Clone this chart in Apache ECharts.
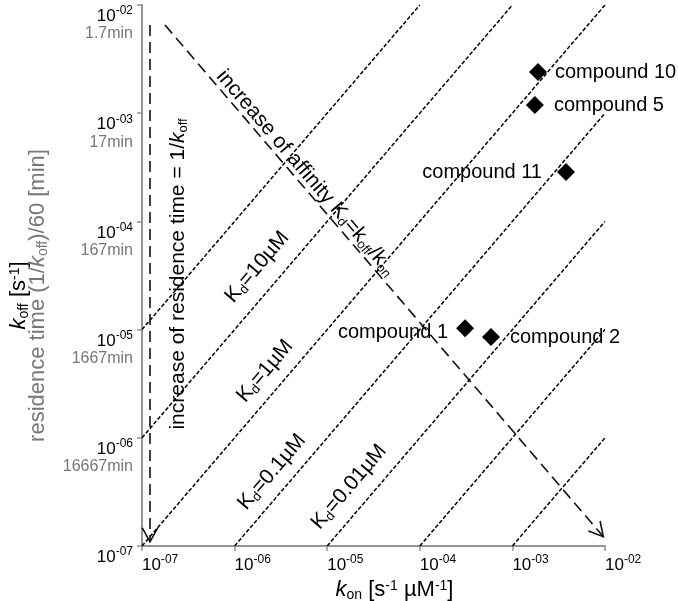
<!DOCTYPE html>
<html><head><meta charset="utf-8">
<script src="https://cdn.jsdelivr.net/npm/echarts@6/dist/echarts.min.js"></script>
<style>html,body{margin:0;padding:0;background:#fff}#c{width:678px;height:601px}</style>
</head><body><div id="c"></div>
<script>
// ---- data ----
const tickExponents = ['-07', '-06', '-05', '-04', '-03', '-02'];
const residenceLabels = ['', '16667min', '1667min', '167min', '17min', '1.7min'];

const compounds = ['compound 10', 'compound 5', 'compound 11', 'compound 1', 'compound 2'];
const kon = [1.89e-3, 1.75e-3, 3.79e-3, 3.08e-4, 5.87e-4];
const koff = [2.40e-3, 1.19e-3, 2.86e-4, 1.03e-5, 8.55e-6];

const kdValues = [100, 10, 1, 0.1, 0.01, 0.001, 0.0001];
const kdStartKon = [1e-7, 1e-7, 1e-7, 1e-6, 1e-5, 1e-4, 1e-3];
const kdStartKoff = [1e-5, 1e-6, 1e-7, 1e-7, 1e-7, 1e-7, 1e-7];
const kdEndKon = [1e-4, 1e-3, 1e-2, 1e-2, 1e-2, 1e-2, 1e-2];
const kdEndKoff = [1e-2, 1e-2, 1e-2, 1e-3, 1e-4, 1e-5, 1e-6];

const arrowNames = ['increase of residence time', 'increase of affinity'];
const arrowStartKon = [1.22e-7, 1.77e-7];
const arrowStartKoff = [6.53e-3, 6.53e-3];
const arrowEndKon = [1.22e-7, 9.6e-3];
const arrowEndKoff = [1.09e-7, 1.22e-7];

const kdLabelTexts = ['10µM', '1µM', '0.1µM', '0.01µM'];
const kdLabelKon = [1.75e-6, 2.13e-6, 2.53e-6, 1.72e-5];
const kdLabelKoff = [3.79e-5, 4.14e-6, 4.83e-7, 3.51e-7];

const residenceNoteAt = [2.45e-7, 3.27e-5];
const affinityNoteAt = [5.90e-6, 2.80e-4];

// ---- layout / style config ----
const FONT = 'Liberation Sans, Arial, Helvetica, sans-serif';
const compoundLabelSide = ['right', 'right', 'left', 'left', 'right'];
const compoundLabelDist = [8, 10, 15, 8, 10];
const compoundLabelDy = [0, 0, 0, 4, 1];
const KD_ANGLE = 49.5;

function tickLabel(v, withRes) {
  const i = Math.round(Math.log10(v)) + 7;
  let s = '{b|10}{p|' + tickExponents[i] + '}';
  if (withRes && residenceLabels[i]) s += '\n{m|' + residenceLabels[i] + '}';
  return s;
}
const tickRich = {
  b: { fontSize: 17, color: '#000', lineHeight: 20, verticalAlign: 'bottom', fontFamily: FONT },
  p: { fontSize: 12, color: '#000', lineHeight: 13, verticalAlign: 'top', fontFamily: FONT },
  m: { fontSize: 16, color: '#777', lineHeight: 18, fontFamily: FONT }
};

// main text top-aligned in the line; subscripts pushed down by padding, superscripts raised
function richSet(size, color, lh) {
  const sub = Math.round(size * 0.64);
  const lineH = lh || size;
  const subPad = Math.round(size / 2 + 5 - sub / 2);
  return {
    t: { fontSize: size, lineHeight: lineH, verticalAlign: 'top', color: color, fontFamily: FONT },
    ti: { fontSize: size, lineHeight: lineH, verticalAlign: 'top', color: color, fontStyle: 'italic', fontFamily: FONT },
    ts: { fontSize: sub, lineHeight: 1, padding: [subPad, 0, 0, 0], verticalAlign: 'top', color: color, fontFamily: FONT },
    tp: { fontSize: sub, lineHeight: 1, padding: [0, 0, 0, 0], verticalAlign: 'top', color: color, fontFamily: FONT }
  };
}
const r22 = richSet(22, '#000', 19);
const g22 = richSet(22, '#777', 19);
const axisRich = {
  t: r22.t, ti: r22.ti, ts: r22.ts, tp: r22.tp,
  g: g22.t, gi: g22.ti, gs: g22.ts
};
const xr22 = richSet(22, '#000');

const annotations = [];
annotations.push({ at: residenceNoteAt, rot: 90, text: '{t|increase of residence time = 1/}{ti|k}{ts|off}' });
annotations.push({ at: affinityNoteAt, rot: -49.4, text: '{t|increase of affinity K}{ts|d}{t|=k}{ts|off}{t|/k}{ts|on}' });
kdLabelTexts.forEach((s, i) => annotations.push({ at: [kdLabelKon[i], kdLabelKoff[i]], rot: KD_ANGLE, text: '{t|K}{ts|d}{t|=' + s + '}' }));

const axisColor = '#939393';
const series = [];

kdValues.forEach((kd, i) => {
  series.push({
    type: 'line', name: 'Kd=' + kd, silent: true, symbol: 'none', clip: true,
    data: [[kdStartKon[i], kdStartKoff[i]], [kdEndKon[i], kdEndKoff[i]]],
    lineStyle: { color: '#000', width: 1.5, type: [4, 2], opacity: 1 }, z: 2
  });
});

series.push({
  type: 'custom', name: 'arrows', silent: true, clip: false, z: 3,
  encode: { x: [0, 2], y: [1, 3] },
  data: arrowNames.map((n, i) => [arrowStartKon[i], arrowStartKoff[i], arrowEndKon[i], arrowEndKoff[i]]),
  renderItem: function (params, api) {
    const p1 = api.coord([api.value(0), api.value(1)]);
    const p2 = api.coord([api.value(2), api.value(3)]);
    const ang = Math.atan2(p2[1] - p1[1], p2[0] - p1[0]);
    const L = 16, a = 0.5;
    const l = [p2[0] - L * Math.cos(ang - a), p2[1] - L * Math.sin(ang - a)];
    const r = [p2[0] - L * Math.cos(ang + a), p2[1] - L * Math.sin(ang + a)];
    return {
      type: 'group', children: [
        { type: 'line', shape: { x1: p1[0], y1: p1[1], x2: p2[0], y2: p2[1] }, style: { stroke: '#111', lineWidth: 1.6, lineDash: [11, 6], fill: null } },
        { type: 'polyline', shape: { points: [l, p2, r] }, style: { stroke: '#111', lineWidth: 1.6, fill: null } }
      ]
    };
  }
});

series.push({
  type: 'scatter', name: 'notes', silent: true, symbolSize: 1, z: 4,
  itemStyle: { color: 'rgba(0,0,0,0)', opacity: 1 },
  data: annotations.map(a => ({ value: a.at, label: { rotate: a.rot, formatter: a.text } })),
  label: { show: true, position: 'inside', rich: richSet(21, '#000') }
});

series.push({
  type: 'scatter', name: 'compounds', symbol: 'diamond', symbolSize: 18, z: 5,
  itemStyle: { color: '#000', opacity: 1 },
  data: compounds.map((n, i) => ({
    name: n, value: [kon[i], koff[i]],
    label: { position: compoundLabelSide[i], distance: compoundLabelDist[i], offset: [0, compoundLabelDy[i]] }
  })),
  label: { show: true, formatter: '{b}', fontSize: 20, color: '#000', fontFamily: FONT }
});

const chart = echarts.init(document.getElementById('c'), null, { renderer: 'canvas' });
chart.setOption({
  animation: false,
  backgroundColor: '#fff',
  textStyle: { fontFamily: FONT },
  grid: { left: 142, right: 73, top: 5, bottom: 55, containLabel: false, outerBoundsMode: 'none' },
  xAxis: {
    type: 'log', logBase: 10, min: 1e-7, max: 1e-2,
    axisLine: { show: true, lineStyle: { color: axisColor, width: 2 } },
    axisTick: { show: true, inside: false, length: 5, lineStyle: { color: axisColor, width: 1.5 } },
    splitLine: { show: false }, minorTick: { show: false },
    axisLabel: { align: 'left', margin: 8, formatter: v => tickLabel(v, false), rich: tickRich, showMinLabel: true, showMaxLabel: true },
    name: '{ti|k}{ts|on}{t| [s}{tp|-1}{t| µM}{tp|-1}{t|]}',
    nameLocation: 'middle', nameGap: 24,
    nameTextStyle: { rich: xr22, padding: [0, 0, 0, 42] }
  },
  yAxis: {
    type: 'log', logBase: 10, min: 1e-7, max: 1e-2,
    axisLine: { show: true, lineStyle: { color: axisColor, width: 2 } },
    axisTick: { show: true, inside: false, length: 5, lineStyle: { color: axisColor, width: 1.5 } },
    splitLine: { show: false }, minorTick: { show: false },
    axisLabel: { align: 'right', verticalAlign: 'top', margin: 9, formatter: v => tickLabel(v, true), rich: tickRich, showMinLabel: true, showMaxLabel: true },
    name: '{ti|k}{ts|off}{t| [s}{tp|-1}{t|]}\n{g|residence time (1/}{gi|k}{gs|off}{g|)/60 [min]}',
    nameLocation: 'middle', nameGap: 96, nameRotate: 90,
    nameTextStyle: { rich: axisRich, padding: [0, 40, 0, 0] }
  },
  series: series
});
</script>
</body></html>
